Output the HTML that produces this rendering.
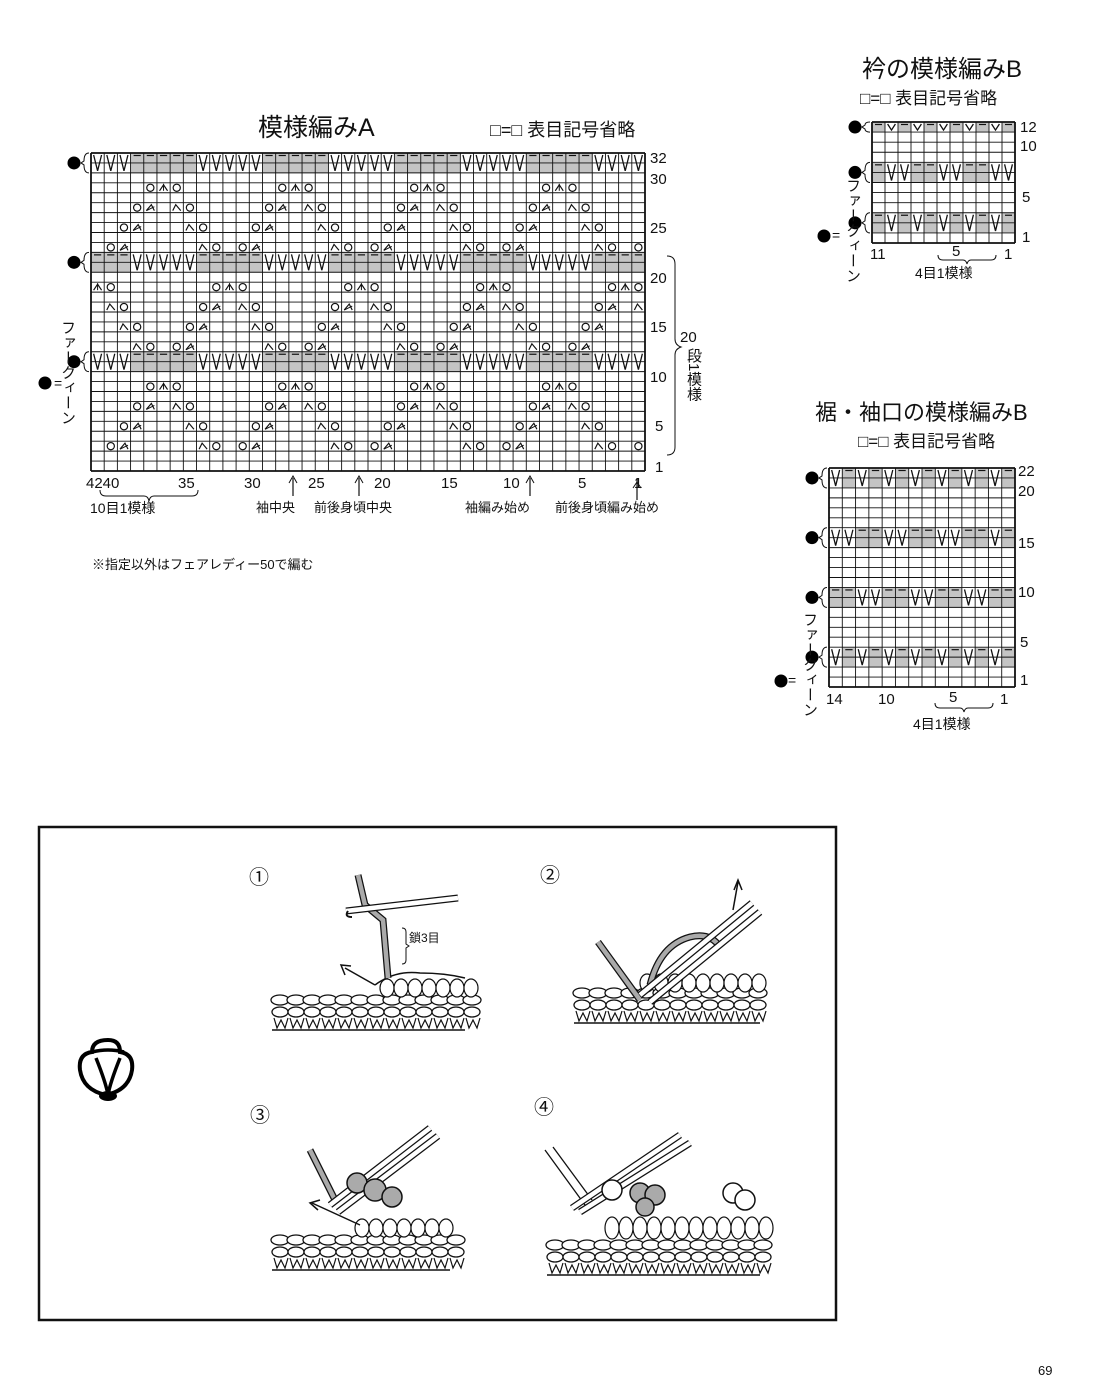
<!DOCTYPE html>
<html><head><meta charset="utf-8"><style>
body{margin:0;background:#fff;}
#pg{position:relative;width:1100px;height:1398px;overflow:hidden;font-family:"Liberation Sans","Noto Sans CJK JP",sans-serif;color:#111;}
.t{position:absolute;white-space:nowrap;line-height:1;}
.v{position:absolute;writing-mode:vertical-rl;line-height:1;font-size:15px;}
svg{position:absolute;left:0;top:0;}
</style></head><body><div id="pg">
<svg id="s" width="1100" height="1398" viewBox="0 0 1100 1398"></svg>

<div class="t" style="left:258px;top:116px;font-size:25px;">模様編みA</div>
<div class="t" style="left:490px;top:121px;font-size:18px;">□=□ 表目記号省略</div>
<div class="t" style="left:650px;top:151px;font-size:15px;">32</div>
<div class="t" style="left:650px;top:172px;font-size:15px;">30</div>
<div class="t" style="left:650px;top:221px;font-size:15px;">25</div>
<div class="t" style="left:650px;top:271px;font-size:15px;">20</div>
<div class="t" style="left:650px;top:320px;font-size:15px;">15</div>
<div class="t" style="left:650px;top:370px;font-size:15px;">10</div>
<div class="t" style="left:655px;top:419px;font-size:15px;">5</div>
<div class="t" style="left:655px;top:460px;font-size:15px;">1</div>
<div class="t" style="left:680px;top:330px;font-size:15px;">20</div>
<div class="v" style="left:686px;top:348px;">段1模様</div>
<div class="t" style="left:86px;top:476px;font-size:15px;">4240</div>
<div class="t" style="left:178px;top:476px;font-size:15px;">35</div>
<div class="t" style="left:244px;top:476px;font-size:15px;">30</div>
<div class="t" style="left:308px;top:476px;font-size:15px;">25</div>
<div class="t" style="left:374px;top:476px;font-size:15px;">20</div>
<div class="t" style="left:441px;top:476px;font-size:15px;">15</div>
<div class="t" style="left:503px;top:476px;font-size:15px;">10</div>
<div class="t" style="left:578px;top:476px;font-size:15px;">5</div>
<div class="t" style="left:634px;top:476px;font-size:15px;">1</div>
<div class="t" style="left:90px;top:501px;font-size:14px;">10目1模様</div>
<div class="t" style="left:256px;top:501px;font-size:13px;">袖中央</div>
<div class="t" style="left:314px;top:501px;font-size:13px;">前後身頃中央</div>
<div class="t" style="left:465px;top:501px;font-size:13px;">袖編み始め</div>
<div class="t" style="left:555px;top:501px;font-size:13px;">前後身頃編み始め</div>
<div class="v" style="left:60px;top:320px;">ファークィーン</div>
<div class="t" style="left:54px;top:376px;font-size:14px;">=</div>
<div class="t" style="left:92px;top:558px;font-size:13px;">※指定以外はフェアレディー50で編む</div>

<div class="t" style="left:862px;top:58px;font-size:24px;">衿の模様編みB</div>
<div class="t" style="left:860px;top:90px;font-size:17px;">□=□ 表目記号省略</div>
<div class="t" style="left:1020px;top:120px;font-size:15px;">12</div>
<div class="t" style="left:1020px;top:139px;font-size:15px;">10</div>
<div class="t" style="left:1022px;top:190px;font-size:15px;">5</div>
<div class="t" style="left:1022px;top:230px;font-size:15px;">1</div>
<div class="t" style="left:870px;top:247px;font-size:15px;">11</div>
<div class="t" style="left:952px;top:244px;font-size:15px;">5</div>
<div class="t" style="left:1004px;top:247px;font-size:15px;">1</div>
<div class="t" style="left:915px;top:266px;font-size:14px;">4目1模様</div>
<div class="v" style="left:845px;top:178px;">ファークィーン</div>
<div class="t" style="left:832px;top:228px;font-size:14px;">=</div>

<div class="t" style="left:815px;top:402px;font-size:22px;">裾・袖口の模様編みB</div>
<div class="t" style="left:858px;top:433px;font-size:17px;">□=□ 表目記号省略</div>
<div class="t" style="left:1018px;top:464px;font-size:15px;">22</div>
<div class="t" style="left:1018px;top:484px;font-size:15px;">20</div>
<div class="t" style="left:1018px;top:536px;font-size:15px;">15</div>
<div class="t" style="left:1018px;top:585px;font-size:15px;">10</div>
<div class="t" style="left:1020px;top:635px;font-size:15px;">5</div>
<div class="t" style="left:1020px;top:673px;font-size:15px;">1</div>
<div class="t" style="left:826px;top:692px;font-size:15px;">14</div>
<div class="t" style="left:878px;top:692px;font-size:15px;">10</div>
<div class="t" style="left:949px;top:690px;font-size:15px;">5</div>
<div class="t" style="left:1000px;top:692px;font-size:15px;">1</div>
<div class="t" style="left:913px;top:717px;font-size:14px;">4目1模様</div>
<div class="v" style="left:802px;top:612px;">ファークィーン</div>
<div class="t" style="left:788px;top:673px;font-size:14px;">=</div>

<div class="t" style="left:249px;top:868px;font-size:20px;">①</div>
<div class="t" style="left:540px;top:866px;font-size:20px;">②</div>
<div class="t" style="left:250px;top:1106px;font-size:20px;">③</div>
<div class="t" style="left:534px;top:1098px;font-size:20px;">④</div>
<div class="t" style="left:409px;top:932px;font-size:12px;">鎖3目</div>
<div class="t" style="left:1038px;top:1364px;font-size:13px;">69</div>
</div>
<script>
const S=document.getElementById('s');let h='';
function L(x1,y1,x2,y2,w){h+=`<line x1="${x1}" y1="${y1}" x2="${x2}" y2="${y2}" stroke="#111" stroke-width="${w||1}"/>`;}
function R(x,y,w,hh,f){h+=`<rect x="${x}" y="${y}" width="${w}" height="${hh}" fill="${f}"/>`;}
function V(x,y,w,hh){h+=`<polyline points="${x+w*0.2},${y+2} ${x+w/2},${y+hh-2} ${x+w*0.8},${y+2}" fill="none" stroke="#111" stroke-width="1.3"/>`;}
function O(cx,cy,r){h+=`<circle cx="${cx}" cy="${cy}" r="${r}" fill="none" stroke="#111" stroke-width="1.2"/>`;}
function dot(x,y){h+=`<circle cx="${x}" cy="${y}" r="6.5" fill="#000"/>`;}
function chart(x0,y0,cols,rows,cw,rh,bands){
 bands.forEach(b=>{const yt=y0+(rows-b.r)*rh;for(let c=0;c<cols;c++){const t=b.f(c);const x=x0+c*cw;
  if(t=='S'){R(x,yt,cw,rh*b.n,'#c4c4c4');L(x+3,yt+2.5,x+cw-3,yt+2.5,1.2);}
  else V(x,yt,cw,rh*b.n);}
  h+=`<path d="M${x0-2} ${yt} q-5 0 -5 ${rh*b.n/2-2} l-3 2 l3 2 q0 ${rh*b.n/2-2} 5 ${rh*b.n/2-2}" fill="none" stroke="#111"/>`;
  dot(x0-17,yt+rh*b.n/2);});
 for(let r=0;r<=rows;r++){const y=y0+r*rh;L(x0,y,x0+cols*cw,y,r==0||r==rows?1.8:0.9);}
 for(let c=0;c<=cols;c++){const x=x0+c*cw;L(x,y0,x,y0+rows*rh,c==0||c==cols?1.8:0.9);}
}
const ax=91,ay=153,cw=(645-91)/42,rh=(471-153)/32;
const b1=c=>{const m=((c+2)%10+10)%10;return m<5?'V':'S';};
const b2=c=>b1(c)=='V'?'S':'V';
chart(ax,ay,42,32,cw,rh,[{r:32,n:2,f:b1},{r:22,n:2,f:b2},{r:12,n:2,f:b1}]);
function cell(c,r){return [ax+c*cw+cw/2, ay+(32-r)*rh+rh/2];}
function sym(c,r,t){if(c<0||c>41)return;const [x,y]=cell(c,r);
 if(t=='O')O(x,y,3.6);
 else if(t=='/')h+=`<polyline points="${x-4},${y+3} ${x+1},${y-3} ${x+4},${y+3}" fill="none" stroke="#111" stroke-width="1.2"/><line x1="${x-4}" y1="${y+3}" x2="${x+4}" y2="${y-1}" stroke="#111"/>`;
 else if(t=='\\')h+=`<polyline points="${x-4},${y+3} ${x-1},${y-3} ${x+4},${y+3}" fill="none" stroke="#111" stroke-width="1.2"/>`;
 else if(t=='A')h+=`<polyline points="${x-4},${y+3} ${x},${y-3} ${x+4},${y+3}" fill="none" stroke="#111" stroke-width="1.2"/><line x1="${x}" y1="${y-4}" x2="${x}" y2="${y+3}" stroke="#111"/>`;}
function diamond(center,rowTop){
 for(let k=-10;k<=50;k+=10){const c=center+k;
  sym(c-1,rowTop,'O');sym(c,rowTop,'A');sym(c+1,rowTop,'O');
  sym(c-2,rowTop-2,'O');sym(c-1,rowTop-2,'/');sym(c+1,rowTop-2,'\\');sym(c+2,rowTop-2,'O');
  sym(c-3,rowTop-4,'O');sym(c-2,rowTop-4,'/');sym(c+2,rowTop-4,'\\');sym(c+3,rowTop-4,'O');
  sym(c-4,rowTop-6,'O');sym(c-3,rowTop-6,'/');sym(c+3,rowTop-6,'\\');sym(c+4,rowTop-6,'O');}}
diamond(5,29);diamond(0,19);diamond(5,9);
h+=`<path d="M667 256 q8 0 8 8 v75 q0 6 6 8 q-6 2 -6 8 v92 q0 8 -8 8" fill="none" stroke="#111"/>`;
h+=`<path d="M100 490 q0 6 6 6 h38 q4 0 5 5 q1 -5 5 -5 h38 q6 0 6 -6" fill="none" stroke="#111"/>`;
[293,359,530].forEach(x=>{L(x,496,x,478,1.2);h+=`<polyline points="${x-4},${483} ${x},${476} ${x+4},${483}" fill="none" stroke="#111"/>`;});
L(637,500,637,478,1.2);h+=`<polyline points="${633},${488} ${637},${482} ${641},${488}" fill="none" stroke="#111"/>`;
dot(45,383);
const bx=872,by=122,bw=(1015-872)/11,bh=(243-122)/12;
chart(bx,by,11,12,bw,bh,[{r:12,n:1,f:c=>c%2?'V':'S'},{r:8,n:2,f:c=>{const m=(c+3)%4;return m<2?'V':'S';}},{r:3,n:2,f:c=>c%2?'V':'S'}]);
h+=`<path d="M938 255 q0 5 5 5 h20 q3 0 4 4 q1 -4 4 -4 h20 q5 0 5 -5" fill="none" stroke="#111"/>`;
dot(824,236);
const cx0=829,cy0=468,cw2=(1015-829)/14,ch2=(687-468)/22;
chart(cx0,cy0,14,22,cw2,ch2,[{r:22,n:2,f:c=>c%2?'S':'V'},{r:16,n:2,f:c=>c==12?'V':c==13?'S':(c%4<2?'V':'S')},{r:10,n:2,f:c=>(c%4<2?'S':'V')},{r:4,n:2,f:c=>c%2?'S':'V'}]);
h+=`<path d="M935 703 q0 5 5 5 h20 q3 0 4 4 q1 -4 4 -4 h20 q5 0 5 -5" fill="none" stroke="#111"/>`;
dot(781,681);
h+=`<rect x="39" y="827" width="797" height="493" fill="none" stroke="#111" stroke-width="2.5"/>`;
function fabric(x0,x1,y){
 for(let x=x0;x<x1;x+=16){h+=`<ellipse cx="${x+8}" cy="${y}" rx="9" ry="5" fill="#fff" stroke="#111" stroke-width="1.3"/>`;}
 for(let x=x0;x<x1;x+=16){h+=`<ellipse cx="${x+8}" cy="${y+12}" rx="8" ry="5" fill="#fff" stroke="#111" stroke-width="1.3"/>`;}
 for(let x=x0;x<x1;x+=16){h+=`<path d="M${x+2} ${y+18} l3 10 l4 -8 l4 8 l3 -10" fill="none" stroke="#111" stroke-width="1.2"/>`;}
 L(x0,y+30,x1,y+30,1.4);}
function hook(x1,y1,x2,y2){h+=`<line x1="${x1}" y1="${y1}" x2="${x2}" y2="${y2}" stroke="#111" stroke-width="7"/><line x1="${x1}" y1="${y1}" x2="${x2}" y2="${y2}" stroke="#fff" stroke-width="4.5"/>`;}
function yarn(d){h+=`<path d="${d}" fill="none" stroke="#111" stroke-width="7"/><path d="${d}" fill="none" stroke="#aaa" stroke-width="4.5"/>`;}
fabric(272,465,1000);
h+=`<path d="M375 985 q20 -15 45 -12 q25 0 45 5" fill="none" stroke="#111" stroke-width="1.5"/>`;
for(let x=380;x<465;x+=14)h+=`<ellipse cx="${x+7}" cy="${988}" rx="7" ry="9" fill="#fff" stroke="#111" stroke-width="1.2"/>`;
yarn("M358 875 L365 905 L383 920 L388 978");
hook(346,911,458,898);
h+=`<path d="M352 917 q-8 0 -4 -6" fill="none" stroke="#111" stroke-width="2"/>`;
h+=`<path d="M375 985 L345 968" stroke="#111" stroke-width="1.5" fill="none"/><polyline points="345,975 341,965 351,966" fill="none" stroke="#111" stroke-width="1.5"/>`;
h+=`<path d="M402 928 q4 0 4 4 v12 l3 2 l-3 2 v12 q0 4 -4 4" fill="none" stroke="#111"/>`;
fabric(574,760,993);
for(let x=640;x<760;x+=14)h+=`<ellipse cx="${x+7}" cy="${983}" rx="7" ry="9" fill="#fff" stroke="#111" stroke-width="1.2"/>`;
yarn("M598 942 L640 1000");
yarn("M650 985 q10 -40 40 -48 q20 -5 30 10");
hook(640,995,752,903);hook(650,1002,760,912);
h+=`<line x1="733" y1="910" x2="738" y2="882" stroke="#111" stroke-width="1.5"/><polyline points="734,890 738,880 742,890" fill="none" stroke="#111" stroke-width="1.5"/>`;
fabric(272,450,1240);
for(let x=355;x<450;x+=14)h+=`<ellipse cx="${x+7}" cy="${1228}" rx="7" ry="9" fill="#fff" stroke="#111" stroke-width="1.2"/>`;
yarn("M310 1150 L335 1200");
hook(330,1205,430,1128);hook(338,1212,438,1136);
h+=`<circle cx="357" cy="1183" r="10" fill="#aaa" stroke="#111" stroke-width="1.5"/><circle cx="375" cy="1190" r="11" fill="#aaa" stroke="#111" stroke-width="1.5"/><circle cx="392" cy="1197" r="10" fill="#aaa" stroke="#111" stroke-width="1.5"/>`;
h+=`<path d="M360 1225 L312 1203" stroke="#111" stroke-width="1.5" fill="none"/><polyline points="320,1200 310,1203 318,1210" fill="none" stroke="#111" stroke-width="1.5"/>`;
fabric(547,760,1245);
for(let x=605;x<760;x+=14)h+=`<ellipse cx="${x+7}" cy="${1228}" rx="7" ry="11" fill="#fff" stroke="#111" stroke-width="1.2"/>`;
h+=`<line x1="545" y1="1150" x2="585" y2="1205" stroke="#111" stroke-width="1.3"/><line x1="553" y1="1147" x2="592" y2="1200" stroke="#111" stroke-width="1.3"/>`;
hook(572,1208,680,1135);hook(580,1212,690,1143);
h+=`<circle cx="640" cy="1193" r="10" fill="#aaa" stroke="#111" stroke-width="1.5"/><circle cx="655" cy="1195" r="10" fill="#aaa" stroke="#111" stroke-width="1.5"/><circle cx="645" cy="1207" r="9" fill="#aaa" stroke="#111" stroke-width="1.5"/>`;
h+=`<circle cx="612" cy="1190" r="10" fill="#fff" stroke="#111" stroke-width="1.5"/>`;
h+=`<circle cx="733" cy="1193" r="10" fill="#fff" stroke="#111" stroke-width="1.5"/><circle cx="745" cy="1200" r="10" fill="#fff" stroke="#111" stroke-width="1.5"/>`;
h+=`<path d="M108 1040 q-16 0 -16 12 q-14 2 -12 18 q3 20 26 25 q23 -5 26 -25 q2 -16 -12 -18 q0 -12 -12 -12z" fill="none" stroke="#000" stroke-width="4"/>`;
h+=`<path d="M92 1052 q16 -4 32 0 M96 1058 q10 25 12 37 q2 -12 12 -37" fill="none" stroke="#000" stroke-width="3.5"/>`;
h+=`<ellipse cx="108" cy="1096" rx="9" ry="5" fill="#000"/>`;
S.innerHTML=h;
</script>
</body></html>
